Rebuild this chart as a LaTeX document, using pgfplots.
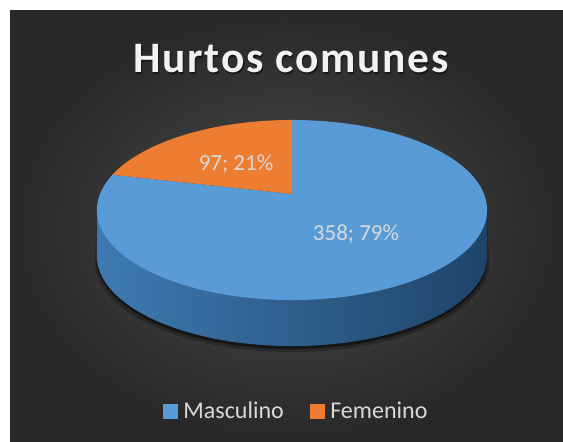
\documentclass[border=0pt]{standalone}
\usepackage{fontspec}
\setmainfont{Carlito}
\newfontfamily\titlefont[LetterSpace=4]{Carlito}
\usepackage{pgfplots}
\pgfplotsset{compat=1.18}
\definecolor{bgin}{RGB}{76,76,76}
\definecolor{bgout}{RGB}{40,40,40}
\definecolor{mblue}{RGB}{88,155,215}
\definecolor{morange}{RGB}{237,125,49}
\definecolor{sideL}{RGB}{62,122,178}
\definecolor{sideR}{RGB}{31,68,104}
\definecolor{lbl}{RGB}{217,217,217}
\definecolor{titlecol}{RGB}{242,242,242}
% data
\def\vMasc{358}
\def\vFem{97}
\begin{document}
\begin{tikzpicture}[x=1pt,y=1pt]
\pgfmathsetmacro\aF{90+360*(\vFem/(\vMasc+\vFem))}
\fill[white] (0,0) rectangle (563,442);
\shade[inner color=bgin, outer color=bgout] (10,0) rectangle (563,431);
\begin{axis}[at={(0,0)}, anchor=south west, width=563pt, height=442pt, scale only axis,
  xmin=-292, xmax=271, ymin=-248, ymax=194, hide axis, clip=false,
  declare function={px(\t)=192*cos(\t)/(1+0.178*sin(\t)); py(\t)=87.2*sin(\t)/(1+0.178*sin(\t));},
  legend columns=2,
  legend cell align=left,
  legend style={at={(0.526,0.070)}, anchor=center, draw=none, fill=none, text=lbl,
    font=\fontsize{24}{24}\selectfont,
    /tikz/every even column/.append style={column sep=24pt}},
  legend image code/.code={\fill[#1] (0pt,-7.5pt) rectangle (15pt,7.5pt); \path (18.5pt,0pt);},
]
% shadow
\addplot[forget plot, draw=none, fill=black, fill opacity=0.25, domain=188:352, samples=80]
  ({1.01*px(x)},{py(x)-52}) -- (axis cs:195.1,-15.6) -- (axis cs:-195.1,-15.6) -- cycle;
\addplot[forget plot, draw=none, fill=black, fill opacity=0.45, domain=190:350, samples=80]
  ({px(x)},{py(x)-49}) -- (axis cs:195.1,-15.6) -- (axis cs:-195.1,-15.6) -- cycle;
% side
\addplot[forget plot, draw=none, left color=sideL, right color=sideR, domain=190:350, samples=80]
  ({px(x)},{py(x)-46}) -- (axis cs:195.1,-15.6) -- (axis cs:-195.1,-15.6) -- cycle;
% top faces
\addplot[draw=none, fill=mblue, domain=\aF:450, samples=120]
  ({px(x)},{py(x)}) -- (axis cs:0,0) -- cycle;
\addplot[draw=none, fill=morange, domain=90:\aF, samples=40]
  ({px(x)},{py(x)}) -- (axis cs:0,0) -- cycle;
\legend{Masculino, Femenino}
\node[anchor=base, text=lbl, font=\fontsize{23}{23}\selectfont] at (axis cs:-56,23) {97; 21\%};
\node[anchor=base, text=lbl, font=\fontsize{23}{23}\selectfont] at (axis cs:64,-47) {358; 79\%};
\node[anchor=base, text=black, opacity=0.5, font=\titlefont\bfseries\fontsize{43.5}{44}\selectfont] at (axis cs:0,119.5) {Hurtos comunes};
\node[anchor=base, text=titlecol, font=\titlefont\bfseries\fontsize{43.5}{44}\selectfont] at (axis cs:-1,121) {Hurtos comunes};
\end{axis}
\end{tikzpicture}
\end{document}
